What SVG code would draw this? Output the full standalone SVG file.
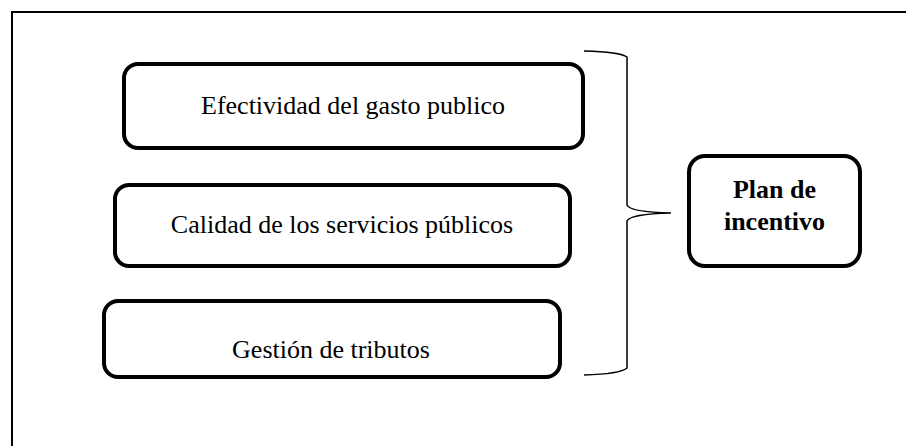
<svg xmlns="http://www.w3.org/2000/svg" width="906" height="446" viewBox="0 0 906 446">
<style>
.box{fill:#fff;stroke:#000;stroke-width:4}
.t{font-family:"Liberation Serif","Times New Roman",serif;font-size:26px;fill:#000;text-anchor:middle}
.b{font-weight:bold}
.frame{fill:none;stroke:#000;stroke-width:2}
.brace{fill:none;stroke:#000;stroke-width:1.5}
</style>
<rect width="906" height="446" fill="#fff"/>
<path class="frame" d="M12,446 V12 H906"/>
<g id="node-efectividad">
<rect class="box" x="124" y="64" width="459" height="84" rx="14"/>
<text class="t" x="353" y="114">Efectividad del gasto publico</text>
</g>
<g id="node-calidad">
<rect class="box" x="115" y="185" width="455" height="81" rx="14"/>
<text class="t" x="342" y="233">Calidad de los servicios públicos</text>
</g>
<g id="node-gestion">
<rect class="box" x="104" y="301" width="456" height="76" rx="14"/>
<text class="t" x="331" y="358">Gestión de tributos</text>
</g>
<g id="node-plan">
<rect class="box" x="689" y="156" width="171" height="110" rx="16"/>
<text class="t b" x="774.5" y="198">Plan de</text>
<text class="t b" x="774.5" y="230">incentivo</text>
</g>
<g id="connectors">
<path class="brace" d="M584,51 Q620,52 627,57 V205 Q630,212 671,213 Q630,214 627,221 V368 Q620,374 584,375"/>
</g>
</svg>
